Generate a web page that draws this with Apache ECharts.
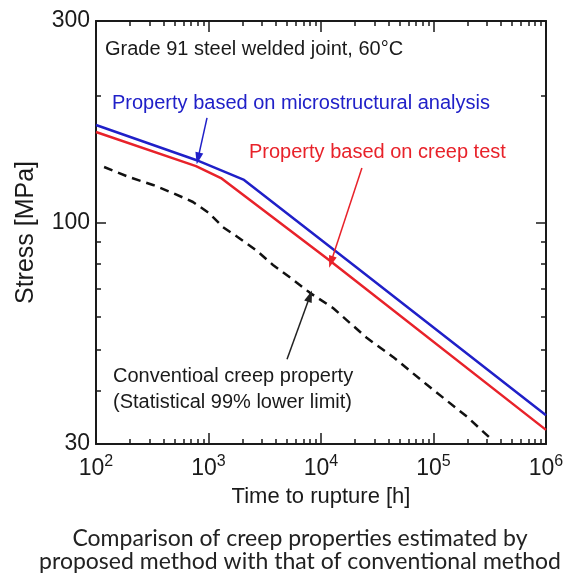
<!DOCTYPE html>
<html>
<head>
<meta charset="utf-8">
<script src="https://cdn.jsdelivr.net/npm/echarts@6/dist/echarts.min.js"></script>
<style>
  html, body { margin: 0; padding: 0; background: #fff; }
  #chart { width: 571px; height: 585px; }
</style>
</head>
<body>
<div id="chart"></div>
<script>
// Creep rupture curves, Grade 91 welded joint (time in h, stress in MPa)
const timeMicro = [100, 774, 2070, 20470, 1000000];
const stressMicro = [170.3, 140.8, 126.3, 78.6, 35.1];

const timeCreepTest = [100, 774, 1291, 11780, 1000000];
const stressCreepTest = [163.9, 136.2, 127.6, 81.7, 32.4];

const timeConventional = [118, 196, 321, 483, 728, 1010, 1345, 1866, 2645, 3743,
  5410, 7980, 12790, 25650, 43650, 87500, 198600, 318000];
const stressConventional = [135.5, 128.3, 122.9, 117.6, 112.0, 105.5, 97.7, 92.1, 86.2, 79.5,
  74.0, 68.3, 62.9, 53.4, 48.2, 41.4, 34.8, 31.0];

// Axis ticks and labels
const timeMajorTicks = [100, 1000, 10000, 100000, 1000000];
const stressLabels = [30, 100, 300];
const stressMajorTicks = [100];
const stressMinorTicks = [40, 50, 60, 70, 80, 90, 200];
const timeMinorTicks = [];
for (let e = 2; e < 6; e++) {
  for (let k = 2; k <= 9; k++) timeMinorTicks.push(k * Math.pow(10, e));
}

// Annotation arrows: [start, tip] as [time, stress]
const arrowMicro = [[970, 177], [807, 142]];
const arrowCreepTest = [[23100, 134.8], [12270, 80.8]];
const arrowConventional = [[4990, 47.6], [7980, 67.1]];

const FONT = '"Liberation Sans", Arial, sans-serif';
const CAPTION_FONT = 'Lato, "Open Sans", sans-serif';
const INK = '#1a1a1a';
const BLUE = '#2020c8';
const RED = '#e8222a';

function zip(xs, ys) { return xs.map((x, i) => [x, ys[i]]); }

function logAxis(extra) {
  return Object.assign({
    type: 'log', logBase: 10,
    splitLine: { show: false },
    axisLine: { show: false, lineStyle: { color: INK, width: 2 } },
    axisLabel: { show: false },
    axisTick: { show: true, inside: true, lineStyle: { color: INK, width: 1.5 } }
  }, extra);
}

function arrowLine(pair, color) {
  return {
    silent: true,
    animation: false,
    symbol: ['none', 'triangle'],
    symbolSize: [8, 12],
    label: { show: false },
    emphasis: { disabled: true },
    lineStyle: { color: color, width: 1.5, type: 'solid' },
    data: [[{ coord: pair[0] }, { coord: pair[1] }]]
  };
}

const chart = echarts.init(document.getElementById('chart'), null, { renderer: 'canvas' });

const xCommon = { min: 100, max: 1000000 };
const yCommon = { min: 30, max: 300 };

chart.setOption({
  animation: false,
  backgroundColor: '#fff',
  textStyle: { fontFamily: FONT },
  grid: { left: 96, right: 25, top: 21, bottom: 141, containLabel: false, outerBoundsMode: 'none' },
  xAxis: [
    logAxis(Object.assign({}, xCommon, {
      position: 'bottom',
      axisLine: { show: true, lineStyle: { color: INK, width: 2 } },
      axisTick: { show: true, inside: true, length: 11, customValues: timeMajorTicks, lineStyle: { color: INK, width: 1.5 } },
      axisLabel: {
        show: true, margin: 10, customValues: timeMajorTicks,
        formatter: function (v) { return '{b|10}{s|' + Math.round(Math.log10(v)) + '}'; },
        rich: {
          b: { fontSize: 23, lineHeight: 30, color: INK, fontFamily: FONT },
          s: { fontSize: 16, lineHeight: 15, verticalAlign: 'top', color: INK, fontFamily: FONT }
        }
      },
      name: 'Time to rupture [h]', nameLocation: 'middle', nameGap: 42,
      nameTextStyle: { fontSize: 22, color: INK, fontFamily: FONT }
    })),
    logAxis(Object.assign({}, xCommon, {
      position: 'bottom',
      axisTick: { show: true, inside: true, length: 5, customValues: timeMinorTicks, lineStyle: { color: INK, width: 1.5 } }
    })),
    logAxis(Object.assign({}, xCommon, {
      position: 'top',
      axisLine: { show: true, lineStyle: { color: INK, width: 2 } },
      axisTick: { show: true, inside: true, length: 11, customValues: timeMajorTicks, lineStyle: { color: INK, width: 1.5 } }
    })),
    logAxis(Object.assign({}, xCommon, {
      position: 'top',
      axisTick: { show: true, inside: true, length: 5, customValues: timeMinorTicks, lineStyle: { color: INK, width: 1.5 } }
    }))
  ],
  yAxis: [
    logAxis(Object.assign({}, yCommon, {
      position: 'left',
      axisLine: { show: true, lineStyle: { color: INK, width: 2 } },
      axisTick: { show: true, inside: true, length: 10, customValues: stressMajorTicks, lineStyle: { color: INK, width: 1.5 } },
      axisLabel: { show: true, margin: 6, customValues: stressLabels, fontSize: 23, color: INK, fontFamily: FONT },
      name: 'Stress [MPa]', nameLocation: 'middle', nameGap: 57,
      nameTextStyle: { fontSize: 25, color: INK, fontFamily: FONT }
    })),
    logAxis(Object.assign({}, yCommon, {
      position: 'left',
      axisTick: { show: true, inside: true, length: 5, customValues: stressMinorTicks, lineStyle: { color: INK, width: 1.5 } }
    })),
    logAxis(Object.assign({}, yCommon, {
      position: 'right',
      axisLine: { show: true, lineStyle: { color: INK, width: 2 } },
      axisTick: { show: true, inside: true, length: 10, customValues: stressMajorTicks, lineStyle: { color: INK, width: 1.5 } }
    })),
    logAxis(Object.assign({}, yCommon, {
      position: 'right',
      axisTick: { show: true, inside: true, length: 5, customValues: stressMinorTicks, lineStyle: { color: INK, width: 1.5 } }
    }))
  ],
  series: [
    {
      name: 'Property based on microstructural analysis',
      type: 'line', xAxisIndex: 0, yAxisIndex: 0,
      data: zip(timeMicro, stressMicro),
      showSymbol: false, symbol: 'none',
      lineStyle: { color: BLUE, width: 2.5 },
      markLine: arrowLine(arrowMicro, BLUE)
    },
    {
      name: 'Property based on creep test',
      type: 'line', xAxisIndex: 0, yAxisIndex: 0,
      data: zip(timeCreepTest, stressCreepTest),
      showSymbol: false, symbol: 'none',
      lineStyle: { color: RED, width: 2.5 },
      markLine: arrowLine(arrowCreepTest, RED)
    },
    {
      name: 'Conventioal creep property',
      type: 'line', xAxisIndex: 0, yAxisIndex: 0,
      data: zip(timeConventional, stressConventional),
      showSymbol: false, symbol: 'none',
      lineStyle: { color: '#111', width: 2.5, type: [9, 6] },
      markLine: arrowLine(arrowConventional, '#222')
    }
  ],
  graphic: [
    { type: 'text', x: 105, y: 49, silent: true,
      style: { text: 'Grade 91 steel welded joint, 60°C', fontSize: 20, fontFamily: FONT, fill: INK, align: 'left', verticalAlign: 'middle' } },
    { type: 'text', x: 112, y: 103, silent: true,
      style: { text: 'Property based on microstructural analysis', fontSize: 20, fontFamily: FONT, fill: BLUE, align: 'left', verticalAlign: 'middle' } },
    { type: 'text', x: 249, y: 152, silent: true,
      style: { text: 'Property based on creep test', fontSize: 20, fontFamily: FONT, fill: RED, align: 'left', verticalAlign: 'middle' } },
    { type: 'text', x: 113, y: 376, silent: true,
      style: { text: 'Conventioal creep property', fontSize: 20, fontFamily: FONT, fill: INK, align: 'left', verticalAlign: 'middle' } },
    { type: 'text', x: 113, y: 402, silent: true,
      style: { text: '(Statistical 99% lower limit)', fontSize: 20, fontFamily: FONT, fill: INK, align: 'left', verticalAlign: 'middle' } },
    { type: 'text', x: 300, y: 539, silent: true,
      style: { text: 'Comparison of creep properties estimated by', fontSize: 23, fontFamily: CAPTION_FONT, fill: '#222', align: 'center', verticalAlign: 'middle' } },
    { type: 'text', x: 300, y: 562, silent: true,
      style: { text: 'proposed method with that of conventional method', fontSize: 23, fontFamily: CAPTION_FONT, fill: '#222', align: 'center', verticalAlign: 'middle' } }
  ]
});
</script>
</body>
</html>
